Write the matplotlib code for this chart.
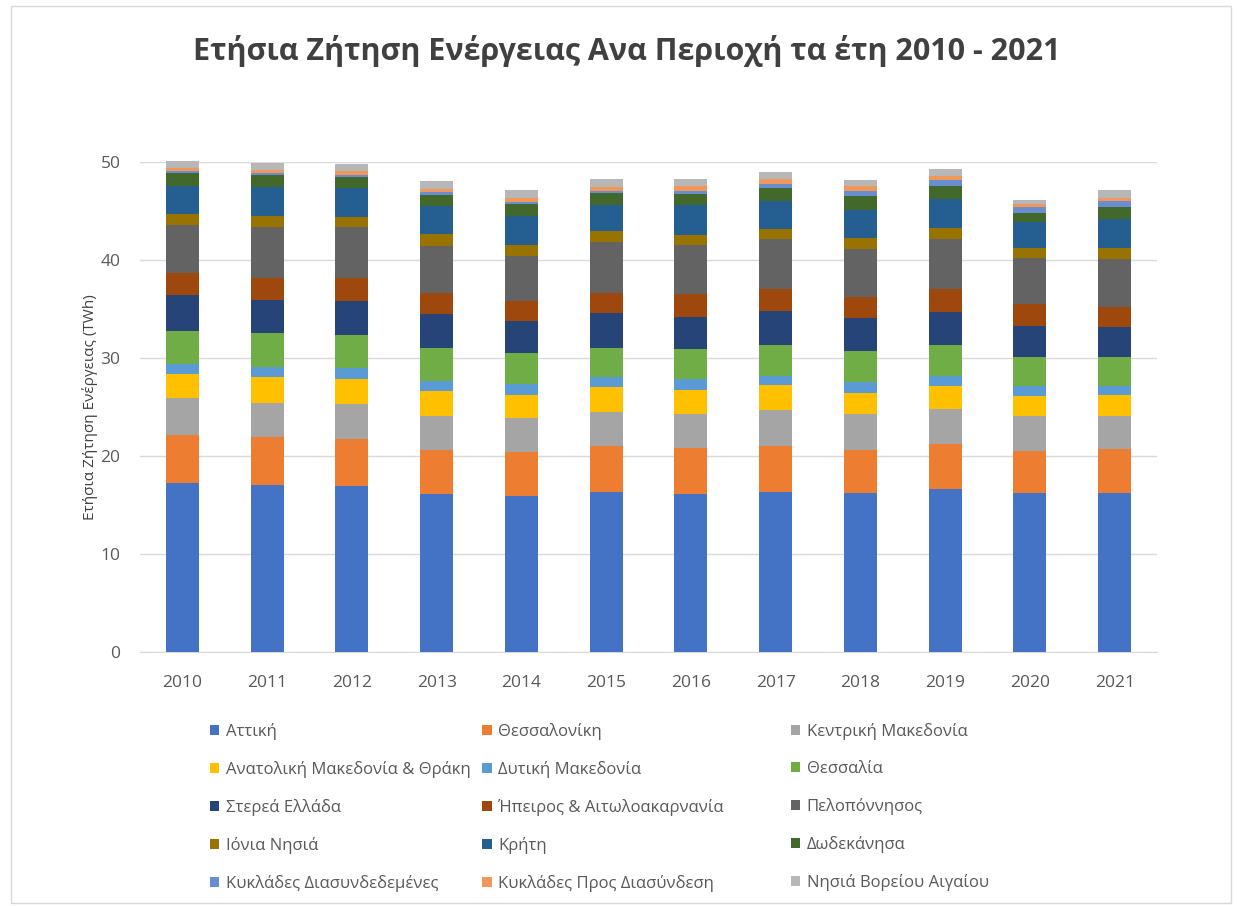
import matplotlib
matplotlib.use("Agg")
import matplotlib.pyplot as plt
import numpy as np
from matplotlib.patches import Rectangle, Patch

plt.rcParams['font.family'] = ['Open Sans', 'DejaVu Sans']

years = ['2010', '2011', '2012', '2013', '2014', '2015',
         '2016', '2017', '2018', '2019', '2020', '2021']

regions = ['Αττική', 'Θεσσαλονίκη', 'Κεντρική Μακεδονία',
           'Ανατολική Μακεδονία & Θράκη', 'Δυτική Μακεδονία', 'Θεσσαλία',
           'Στερεά Ελλάδα', 'Ήπειρος & Αιτωλοακαρνανία', 'Πελοπόννησος',
           'Ιόνια Νησιά', 'Κρήτη', 'Δωδεκάνησα',
           'Κυκλάδες Διασυνδεδεμένες', 'Κυκλάδες Προς Διασύνδεση',
           'Νησιά Βορείου Αιγαίου']

# TWh ανά περιοχή, 2010-2021
attiki = [17.3, 17.1, 17.0, 16.2, 15.9, 16.4, 16.2, 16.4, 16.3, 16.7, 16.3, 16.3]
thessaloniki = [4.9, 4.85, 4.75, 4.4, 4.5, 4.7, 4.6, 4.7, 4.3, 4.55, 4.25, 4.4]
kentriki_mak = [3.7, 3.5, 3.55, 3.55, 3.5, 3.4, 3.55, 3.65, 3.7, 3.6, 3.55, 3.4]
anatoliki_mak = [2.45, 2.6, 2.6, 2.55, 2.35, 2.55, 2.45, 2.55, 2.2, 2.35, 2.1, 2.2]
dytiki_mak = [1.1, 1.1, 1.1, 1.0, 1.1, 1.0, 1.05, 0.9, 1.05, 0.95, 1.0, 0.9]
thessalia = [3.3, 3.4, 3.4, 3.4, 3.2, 3.05, 3.1, 3.15, 3.15, 3.2, 2.9, 2.9]
sterea = [3.75, 3.4, 3.4, 3.4, 3.3, 3.55, 3.3, 3.5, 3.4, 3.4, 3.2, 3.1]
ipeiros = [2.25, 2.25, 2.35, 2.2, 1.95, 2.05, 2.3, 2.25, 2.2, 2.35, 2.2, 2.05]
peloponnisos = [4.85, 5.2, 5.25, 4.75, 4.65, 5.15, 5.0, 5.05, 4.9, 5.05, 4.75, 4.9]
ionia = [1.1, 1.1, 1.0, 1.2, 1.1, 1.1, 1.0, 1.0, 1.1, 1.1, 1.0, 1.15]
kriti = [2.85, 2.95, 2.95, 2.85, 2.95, 2.7, 3.05, 2.9, 2.8, 3.0, 2.7, 2.9]
dodekanisa = [1.35, 1.2, 1.15, 1.2, 1.2, 1.2, 1.2, 1.35, 1.5, 1.35, 0.9, 1.25]
kyklades_diasynd = [0.25, 0.25, 0.25, 0.25, 0.25, 0.25, 0.3, 0.4, 0.5, 0.6, 0.6, 0.6]
kyklades_pros = [0.3, 0.3, 0.35, 0.35, 0.4, 0.4, 0.45, 0.5, 0.5, 0.4, 0.3, 0.3]
voreiou_aigaiou = [0.7, 0.7, 0.75, 0.75, 0.8, 0.75, 0.75, 0.7, 0.6, 0.7, 0.45, 0.8]

series = [attiki, thessaloniki, kentriki_mak, anatoliki_mak, dytiki_mak,
          thessalia, sterea, ipeiros, peloponnisos, ionia, kriti, dodekanisa,
          kyklades_diasynd, kyklades_pros, voreiou_aigaiou]

colors = ['#4472C4', '#ED7D31', '#A5A5A5', '#FFC000', '#5B9BD5', '#70AD47',
          '#264478', '#9E480E', '#636363', '#997300', '#255E91', '#43682B',
          '#698ED0', '#F1975A', '#B7B7B7']

fig = plt.figure(figsize=(12.38, 9.06), dpi=100)
fig.patches.append(Rectangle((0.009, 0.003), 0.985, 0.99, transform=fig.transFigure,
                             fill=False, edgecolor='#d9d9d9', linewidth=1))

ax = fig.add_axes([0.1131, 0.28, 0.8215, 0.5409])
x = np.arange(len(years))
bottom = np.zeros(len(years))
for vals, col in zip(series, colors):
    ax.bar(x, vals, width=0.39, bottom=bottom, color=col, clip_on=False, zorder=3)
    bottom += np.array(vals)

ax.set_xlim(-0.5, len(years) - 0.5)
ax.set_ylim(0, 50)
ax.set_yticks([0, 10, 20, 30, 40, 50])
ax.set_xticks(x)
ax.set_xticklabels(years)
ax.tick_params(axis='both', length=0, labelsize=12.5, labelcolor='#595959')
ax.tick_params(axis='x', pad=16)
ax.tick_params(axis='y', pad=14)
ax.grid(axis='y', color='#d9d9d9', linewidth=1, zorder=0)
for s in ['top', 'right', 'left']:
    ax.spines[s].set_visible(False)
ax.spines['bottom'].set_color('#d9d9d9')
ax.set_ylabel('Ετήσια Ζήτηση Ενέργειας (TWh)', fontsize=11, color='#404040', labelpad=2)

fig.text(0.506, 0.944, 'Ετήσια Ζήτηση Ενέργειας Ανα Περιοχή τα έτη 2010 - 2021',
         ha='center', va='center', fontsize=22, fontweight='bold', color='#404040')

# legend: 3 columns, row-wise order, one legend per column
col_x = [0.163, 0.383, 0.632]
for c in range(3):
    idx = list(range(c, len(regions), 3))
    leg = fig.legend([Patch(facecolor=colors[i]) for i in idx], [regions[i] for i in idx],
                     loc='upper left', bbox_to_anchor=(col_x[c], 0.211),
                     frameon=False, fontsize=12, handlelength=0.55, handleheight=0.55,
                     handletextpad=0.4, labelspacing=1.25, borderpad=0)
    for t in leg.get_texts():
        t.set_color('#595959')

fig.savefig('out.png', dpi=100, facecolor='white')
